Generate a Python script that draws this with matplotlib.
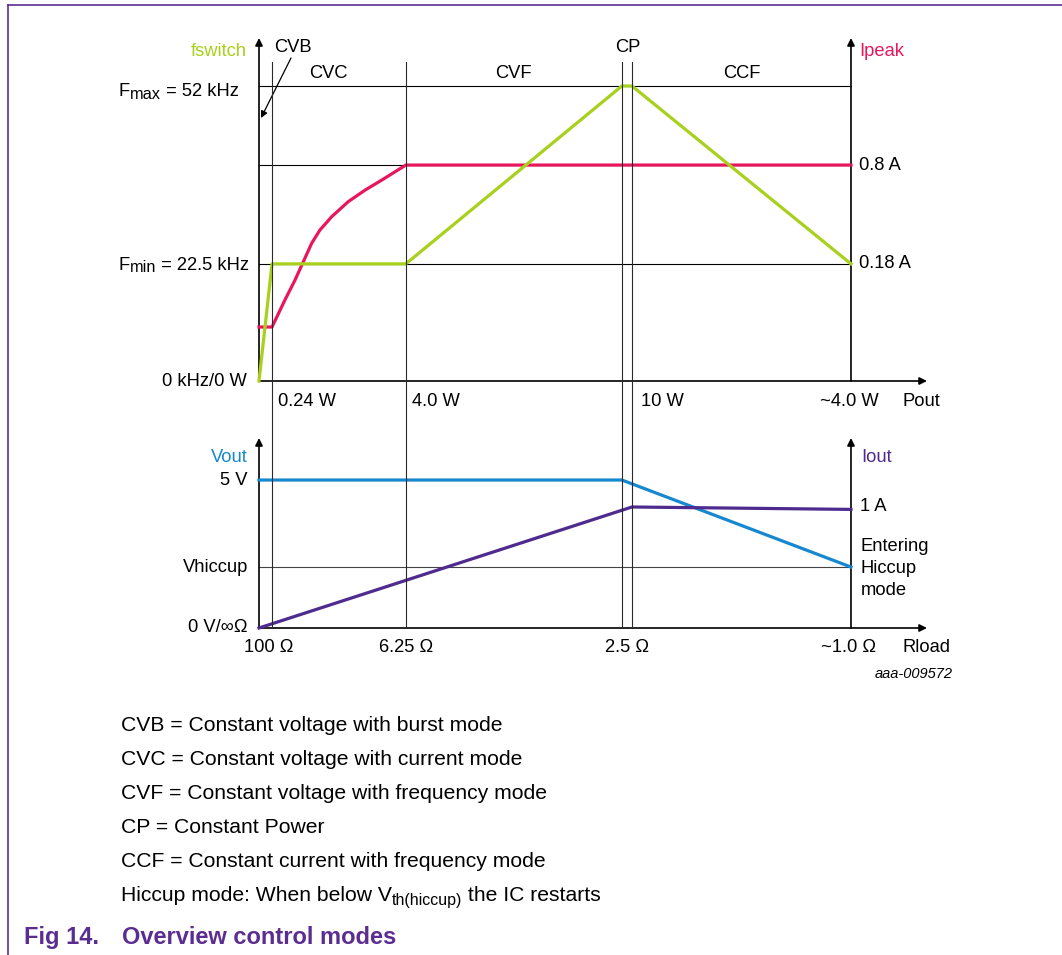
import matplotlib
matplotlib.use("Agg")
import matplotlib.pyplot as plt
from matplotlib import transforms
from matplotlib.lines import Line2D
from matplotlib.patches import FancyArrowPatch

plt.rcParams['font.family'] = ['Liberation Sans', 'DejaVu Sans']

# ---- data (schematic units; load axis runs 0 .. 100 at the right-hand axis) ----
mode_bounds = [2.2, 24.8, 61.3, 63.0]          # CVB|CVC, CVC|CVF, CP start, CP end
x_right = 100.0

# top panel: levels on a schematic scale where F_max = 100
level_fmax = 100.0
level_ipeak_max = 73.2                          # 0.8 A
level_fmin = 39.7                               # 22.5 kHz / 0.18 A

fsw_x = [0, 2.2, 24.8, 61.3, 63.0, 100]
fsw_y = [0, 39.7, 39.7, 100, 100, 39.7]

ipeak_x = [0, 2.2, 4.39, 6.08, 7.48, 8.90, 10.30, 12.28, 15.08, 17.91, 20.73, 24.8, 100]
ipeak_y = [18.3, 18.3, 27.5, 34.2, 40.4, 46.7, 51.2, 55.7, 60.8, 64.7, 68.1, 73.2, 73.2]

pout_labels = ['0.24 W', '4.0 W', '10 W', '~4.0 W']

# bottom panel
vout_x = [0, 61.3, 100]
vout_y = [5.0, 5.0, 2.06]
v_hiccup = 2.06
iout_x = [0, 63.0, 100]
iout_y = [0, 1.0, 0.98]
rload_labels = ['100 Ω', '6.25 Ω', '2.5 Ω', '~1.0 Ω']

legend_lines = [
    'CVB = Constant voltage with burst mode',
    'CVC = Constant voltage with current mode',
    'CVF = Constant voltage with frequency mode',
    'CP = Constant Power',
    'CCF = Constant current with frequency mode',
]

# ---- styling ----
GREEN = '#a8d01c'
RED = '#e8175d'
BLUE = '#1688cf'
PURPLE = '#4f2a8f'
NXP = '#5c2d91'
FS = 13.2
FS_LEG = 15.2

W, H = 1062, 955
fig = plt.figure(figsize=(W / 100, H / 100), dpi=100)
renderer = fig.canvas.get_renderer()


def fx(p):
    return p / W


def fy(p):
    return 1 - p / H


def axes_box(left, top, right, bottom):
    return [fx(left), fy(bottom), (right - left) / W, (bottom - top) / H]


def compose(x_px, base_px, pieces, ha='left', **kw):
    """Lay out text pieces (text, size, drop_px) side by side on one baseline."""
    texts, widths = [], []
    for s, size, _ in pieces:
        t = fig.text(0, 0, s, fontsize=size, ha='left', va='baseline', **kw)
        texts.append(t)
        widths.append(t.get_window_extent(renderer).width)
    cur = x_px - sum(widths) if ha == 'right' else x_px
    for t, w, (_, _, drop) in zip(texts, widths, pieces):
        t.set_position((fx(cur), fy(base_px + drop)))
        cur += w


ax_top = fig.add_axes(axes_box(259, 38, 927, 381))
ax_bot = fig.add_axes(axes_box(259, 438, 927, 628))
ax_iout = ax_bot.twinx()

for a in (ax_top, ax_bot, ax_iout):
    a.set_xlim(0, 112.84)
    a.axis('off')
ax_top.set_ylim(0, 116.27)
ax_bot.set_ylim(0, 6.42)
ax_iout.set_ylim(0, 1.570)

AX_LW = 1.2
REF_LW = 0.8
CURVE_LW = 2.3
arrow_kw = dict(arrowstyle='-|>', color='black', lw=AX_LW, mutation_scale=11,
                shrinkA=0, shrinkB=0)


def draw_axes_frame(a):
    a.annotate('', xy=(0, 1), xytext=(0, 0), xycoords='axes fraction',
               arrowprops=arrow_kw)
    a.annotate('', xy=(1, 0), xytext=(0, 0), xycoords='axes fraction',
               arrowprops=arrow_kw)
    a.annotate('', xy=(x_right, 1), xytext=(x_right, 0),
               xycoords=('data', 'axes fraction'), arrowprops=arrow_kw)


draw_axes_frame(ax_top)
draw_axes_frame(ax_bot)

# mode boundaries run through both panels
blend = transforms.blended_transform_factory(ax_top.transData, fig.transFigure)
y_div_top = fy(62)
y_div_bot = ax_bot.get_position().y0
for xb in mode_bounds:
    fig.add_artist(Line2D([xb, xb], [y_div_top, y_div_bot], transform=blend,
                          color='#2a2a2a', lw=REF_LW))

# top panel reference levels
for lv in (level_fmax, level_ipeak_max, level_fmin):
    ax_top.plot([0, x_right], [lv, lv], color='black', lw=REF_LW, clip_on=False)

ax_top.plot(ipeak_x, ipeak_y, color=RED, lw=CURVE_LW, clip_on=False,
            solid_joinstyle='round', zorder=3)
ax_top.plot(fsw_x, fsw_y, color=GREEN, lw=CURVE_LW, clip_on=False,
            solid_joinstyle='round', zorder=4)

# bottom panel reference level
ax_bot.plot([0, x_right], [v_hiccup, v_hiccup], color='#444444', lw=REF_LW,
            clip_on=False)
ax_bot.plot(vout_x, vout_y, color=BLUE, lw=CURVE_LW, clip_on=False, zorder=3)
ax_iout.plot(iout_x, iout_y, color=PURPLE, lw=CURVE_LW, clip_on=False, zorder=3)


# ---- top panel labels ----
def left_label(a, level, text, off=11, **kw):
    a.annotate(text, xy=(0, level), xycoords=('axes fraction', 'data'),
               xytext=(-off, 0), textcoords='offset pixels',
               ha='right', va='center', fontsize=FS, **kw)


def right_label(a, level, text, off=8, **kw):
    a.annotate(text, xy=(x_right, level), xycoords='data',
               xytext=(off, 0), textcoords='offset pixels',
               ha='left', va='center', fontsize=FS, **kw)


compose(239, 96.5, [('F', FS, 0), ('max', 11.8, 2.5), (' = 52 kHz', FS, 0)], ha='right')
compose(249, 269.5, [('F', FS, 0), ('min', 11.8, 2.5), (' = 22.5 kHz', FS, 0)], ha='right')
left_label(ax_top, 0, '0 kHz/0 W', off=12)
right_label(ax_top, level_ipeak_max, '0.8 A')
right_label(ax_top, level_fmin, '0.18 A')

fig.text(fx(247), fy(52), 'fswitch', color=GREEN, fontsize=FS, ha='right', va='center')
fig.text(fx(859), fy(52), 'Ipeak', color=RED, fontsize=FS, ha='left', va='center')

fig.text(fx(274), fy(47), 'CVB', fontsize=FS, ha='left', va='center')
fig.text(fx(328), fy(73), 'CVC', fontsize=FS, ha='center', va='center')
fig.text(fx(513), fy(73), 'CVF', fontsize=FS, ha='center', va='center')
fig.text(fx(628), fy(47), 'CP', fontsize=FS, ha='center', va='center')
fig.text(fx(742), fy(73), 'CCF', fontsize=FS, ha='center', va='center')
fig.add_artist(FancyArrowPatch(
    (fx(291), fy(58)), (fx(261), fy(118)), transform=fig.transFigure,
    arrowstyle='-|>', mutation_scale=10, lw=0.9, color='black',
    shrinkA=0, shrinkB=0))

# power labels under the top panel
pout_pos = [(mode_bounds[0], 'left', 6), (mode_bounds[1], 'left', 6),
            (mode_bounds[3], 'left', 9), (x_right, 'center', -2)]
for (xp, ha, off), lab in zip(pout_pos, pout_labels):
    ax_top.annotate(lab, xy=(xp, 0), xycoords='data', xytext=(off, -20),
                    textcoords='offset pixels', ha=ha, va='center', fontsize=FS)
fig.text(fx(903), fy(401), 'Pout', fontsize=FS, ha='left', va='center')

# ---- bottom panel labels ----
fig.text(fx(248), fy(457), 'Vout', color=BLUE, fontsize=FS, ha='right', va='center')
left_label(ax_bot, vout_y[0], '5 V')
left_label(ax_bot, v_hiccup, 'Vhiccup')
left_label(ax_bot, 0, '0 V/∞Ω')

fig.text(fx(861), fy(457), 'Iout', color=PURPLE, fontsize=FS, ha='left', va='center')
right_label(ax_iout, iout_y[1], '1 A', off=9)
for yb, word in zip([550.7, 572.5, 595.0], ['Entering', 'Hiccup', 'mode']):
    fig.text(fx(861), fy(yb), word, fontsize=FS, ha='left', va='baseline')

rload_pos = [mode_bounds[0] - 0.5, mode_bounds[1], (mode_bounds[2] + mode_bounds[3]) / 2,
             x_right - 0.4]
for xp, lab in zip(rload_pos, rload_labels):
    ax_bot.annotate(lab, xy=(xp, 0), xycoords='data', xytext=(0, -20),
                    textcoords='offset pixels', ha='center', va='center', fontsize=FS)
fig.text(fx(903), fy(648), 'Rload', fontsize=FS, ha='left', va='center')
fig.text(fx(953), fy(674), 'aaa-009572', fontsize=10.5, style='italic',
         ha='right', va='center')

# ---- mode legend and caption ----
legend_base = [731, 765, 799, 833, 867]
for yb, line in zip(legend_base, legend_lines):
    fig.text(fx(121), fy(yb), line, fontsize=FS_LEG, ha='left', va='baseline')
compose(121, 901, [('Hiccup mode: When below V', FS_LEG, 0),
                   ('th(hiccup)', 11.5, 4),
                   (' the IC restarts', FS_LEG, 0)])

fig.text(fx(24), fy(943.5), 'Fig 14.', fontsize=17, fontweight='bold', color=NXP,
         ha='left', va='baseline')
fig.text(fx(122), fy(943.5), 'Overview control modes', fontsize=17,
         fontweight='bold', color=NXP, ha='left', va='baseline')

# page frame
fig.add_artist(Line2D([fx(8), 1.0], [fy(5), fy(5)], color=NXP, lw=1.2))
fig.add_artist(Line2D([fx(8), fx(8)], [fy(5), 0.0], color=NXP, lw=1.2))

fig.savefig('out.png', dpi=100)
